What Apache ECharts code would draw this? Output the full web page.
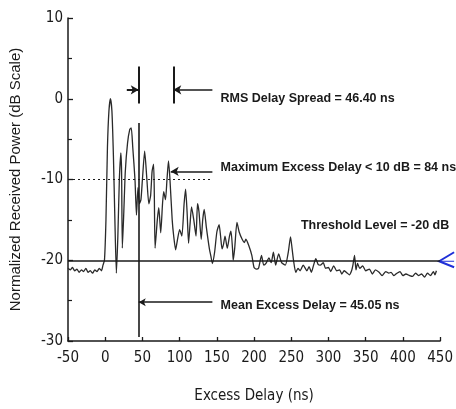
<!DOCTYPE html>
<html>
<head>
<meta charset="utf-8">
<script src="https://cdn.jsdelivr.net/npm/echarts@6/dist/echarts.min.js"></script>
<style>
html,body{margin:0;padding:0;background:#fff;}
#c{width:456px;height:409px;}
</style>
</head>
<body>
<div id="c"></div>
<script>
// ---- data ----
var delayNs = [-50,-47,-44,-41,-38,-35,-32,-29,-26,-23,-20,-17,-14,-11,-8,-5,-3,-1,
  1,3,5,7,9,11,13,15,17,19,21,22,23,25,27,30,33,35,37,40,42,44,46,48,50,53,56,58.6,61,63,65,66,67,70,72,74.6,77,78.6,81,83,85,87,90,92,94.6,97,100,103,106,108,110,112,114,116,119,122,124,126,129,131,133,136,140,142,144,147,150,153,155,157,159,161,164,167,169,171,172,174,177,180,184,187,189,193,197,200,203,206,210,213,216,220,223,226,229,233,237,242,246,249,251,253,256,259,262,266,271,274,277,280,283,286,289,293,296,300,303,307,311,315,318,321,324,328,331,333,335,337,339,342,346,350,355,359,363,368,372,377,381,384,388,392,396,400,404,409,413,417,421,425,429,433,437,441,443,445];
var powerDb = [-21.0,-21.2,-20.9,-21.3,-21.1,-21.5,-21.2,-21.4,-21.0,-21.5,-21.3,-21.6,-21.2,-21.4,-21.0,-21.3,-20.6,-20.0,
  -15,-6,-1.5,0,-1.5,-7,-15,-21.6,-17,-10,-6.7,-9,-18.5,-14,-9,-5.5,-3.8,-3.6,-6,-10,-14.4,-11,-13,-12.5,-10,-6.5,-10,-13,-12,-9,-8.1,-12,-18.5,-15,-13.5,-16.6,-13,-11.5,-12.5,-10,-7.7,-10,-15,-17,-18.7,-17.5,-16.2,-17,-13,-11.2,-14,-17.9,-15.5,-13.4,-15,-17,-13,-14,-17.4,-15,-13.7,-16,-18.6,-19.5,-20.4,-19,-16.5,-15.6,-17,-18.6,-18,-17,-18.5,-17,-16.4,-18.5,-20,-18.5,-15.3,-16.5,-17.4,-17.8,-17.4,-18.2,-19.4,-20.9,-21.1,-21,-19.4,-20.6,-20.4,-19.7,-20.3,-19,-20.6,-19.2,-20.3,-20.6,-19,-17.1,-18.5,-20,-21.5,-21,-21.3,-20.6,-21.3,-20.8,-21.5,-20.6,-19.8,-20.5,-20.6,-20.3,-21,-20.9,-21.4,-20.7,-21.3,-21.2,-21.7,-21.3,-21.5,-21.8,-21.3,-20.5,-19.4,-21.2,-20.4,-21,-20.7,-21.3,-21.1,-21.7,-21.2,-21.5,-21.9,-21.4,-21.6,-21.5,-21.9,-21.6,-21.4,-21.9,-21.7,-21.9,-22,-21.6,-21.9,-21.7,-22.1,-21.6,-21.9,-21.4,-21.8,-21.3];
var xTicks = [-50,0,50,100,150,200,250,300,350,400,450];
var yTicks = [-30,-20,-10,0,10];
var meanExcessDelay = 45.05;
var rmsDelaySpread = 46.40;
var thresholdDb = -20;
var tenDbLevel = -10;
var maxExcessDelay = 88;
var labels = {
  rms: 'RMS Delay Spread = 46.40 ns',
  maxEx: 'Maximum Excess Delay < 10 dB = 84 ns',
  thr: 'Threshold Level = -20 dB',
  mean: 'Mean Excess Delay = 45.05 ns'
};

var pts = delayNs.map(function(x,i){return [x, powerDb[i]];});
var ink = '#1a1a1a';
var narrow = '"DejaVu Sans Condensed", "Liberation Sans Narrow", "Arial Narrow", "Liberation Sans", sans-serif';
var chart = echarts.init(document.getElementById('c'), null, {renderer:'canvas'});

var lineStyleSolid = {color: ink, width: 1.6, type: 'solid'};
var annLineEnd = 144;

chart.setOption({
  animation: false,
  backgroundColor: '#fff',
  grid: {left: 67, right: 13, top: 18, bottom: 62},
  xAxis: {
    type: 'value', min: xTicks[0], max: xTicks[xTicks.length-1], interval: 50,
    name: 'Excess Delay (ns)', nameLocation: 'middle', nameGap: 48,
    nameTextStyle: {fontFamily: narrow, fontSize: 15, color: ink},
    axisLine: {onZero: false, lineStyle: {color: ink, width: 1.5}},
    axisTick: {inside: true, length: 4, lineStyle: {color: ink, width: 1.3}},
    axisLabel: {fontFamily: narrow, fontSize: 15, color: ink, margin: 10},
    splitLine: {show: false}
  },
  yAxis: {
    type: 'value', min: yTicks[0], max: yTicks[yTicks.length-1], interval: 10,
    name: 'Normalized Received Power (dB Scale)', nameLocation: 'middle', nameGap: 45,
    nameTextStyle: {fontFamily: 'Liberation Sans', fontSize: 15, color: ink},
    axisLine: {show: true, onZero: false, lineStyle: {color: ink, width: 1.5}},
    axisTick: {show: true, inside: true, length: 5, lineStyle: {color: ink, width: 1.3}},
    minorTick: {show: true, splitNumber: 2, length: 4, lineStyle: {color: ink, width: 1.2}},
    axisLabel: {fontFamily: narrow, fontSize: 15, color: ink, margin: 5},
    splitLine: {show: false}
  },
  series: [{
    type: 'line', data: pts, showSymbol: false, smooth: 0.2,
    lineStyle: {color: '#2a2a2a', width: 1.3},
    z: 3,
    markLine: {
      silent: true, symbol: 'none', animation: false,
      label: {show: false},
      lineStyle: lineStyleSolid,
      data: [
        [{coord: [xTicks[0], thresholdDb], symbol:'none'}, {coord: [xTicks[xTicks.length-1], thresholdDb], symbol:'none'}],
        [{coord: [xTicks[0], tenDbLevel], symbol:'none', lineStyle:{type:[2,3], width:1.2, color: ink}}, {coord: [annLineEnd, tenDbLevel], symbol:'none'}],
        [{coord: [meanExcessDelay, -3], symbol:'none'}, {coord: [meanExcessDelay, -29.5], symbol:'none'}],
        [{coord: [meanExcessDelay, 4], symbol:'none', lineStyle:{width:2, color: ink}}, {coord: [meanExcessDelay, -0.6], symbol:'none'}],
        [{coord: [meanExcessDelay + rmsDelaySpread, 4], symbol:'none', lineStyle:{width:2, color: ink}}, {coord: [meanExcessDelay + rmsDelaySpread, -0.6], symbol:'none'}],
        [{coord: [29, 1.1], symbol:'none', lineStyle:{width:2, color: ink}}, {coord: [meanExcessDelay, 1.1], symbol:'arrow', symbolSize:[7,8]}],
        [{coord: [annLineEnd, 1.1], symbol:'none'}, {coord: [meanExcessDelay + rmsDelaySpread, 1.1], symbol:'arrow', symbolSize:[7,8]}],
        [{coord: [annLineEnd, -9], symbol:'none'}, {coord: [maxExcessDelay, -9], symbol:'arrow', symbolSize:[7,8]}],
        [{coord: [annLineEnd, -25.2], symbol:'none'}, {coord: [meanExcessDelay, -25.2], symbol:'arrow', symbolSize:[6,7]}]
      ]
    }
  }]
});

function px(x, y){ return chart.convertToPixel({gridIndex:0}, [x, y]); }
var tStyle = {fontFamily: 'Liberation Sans', fontSize: 12.5, fontWeight: 'bold', fill: ink};
function txt(text, x, y){
  var p = px(x, y);
  return {type:'text', x: p[0], y: p[1], style: Object.assign({text: text, verticalAlign:'middle'}, tStyle)};
}
var thrP = px(xTicks[xTicks.length-1], thresholdDb);
chart.setOption({
  graphic: [
    txt(labels.rms, 155, 0.0),
    txt(labels.maxEx, 155, -8.5),
    txt(labels.thr, 263, -15.7),
    txt(labels.mean, 155, -25.6),
    {type:'polyline', shape:{points:[[thrP[0]+14, thrP[1]-8],[thrP[0]-1, thrP[1]+1],[thrP[0]+14, thrP[1]+7]]},
     style:{stroke:'#1f2fd8', lineWidth:2, fill:'none'}},
    {type:'line', shape:{x1:thrP[0]-1, y1:thrP[1]+1, x2:thrP[0]+14, y2:thrP[1]+1}, style:{stroke:'#1f2fd8', lineWidth:1}}
  ]
});
</script>
</body>
</html>
